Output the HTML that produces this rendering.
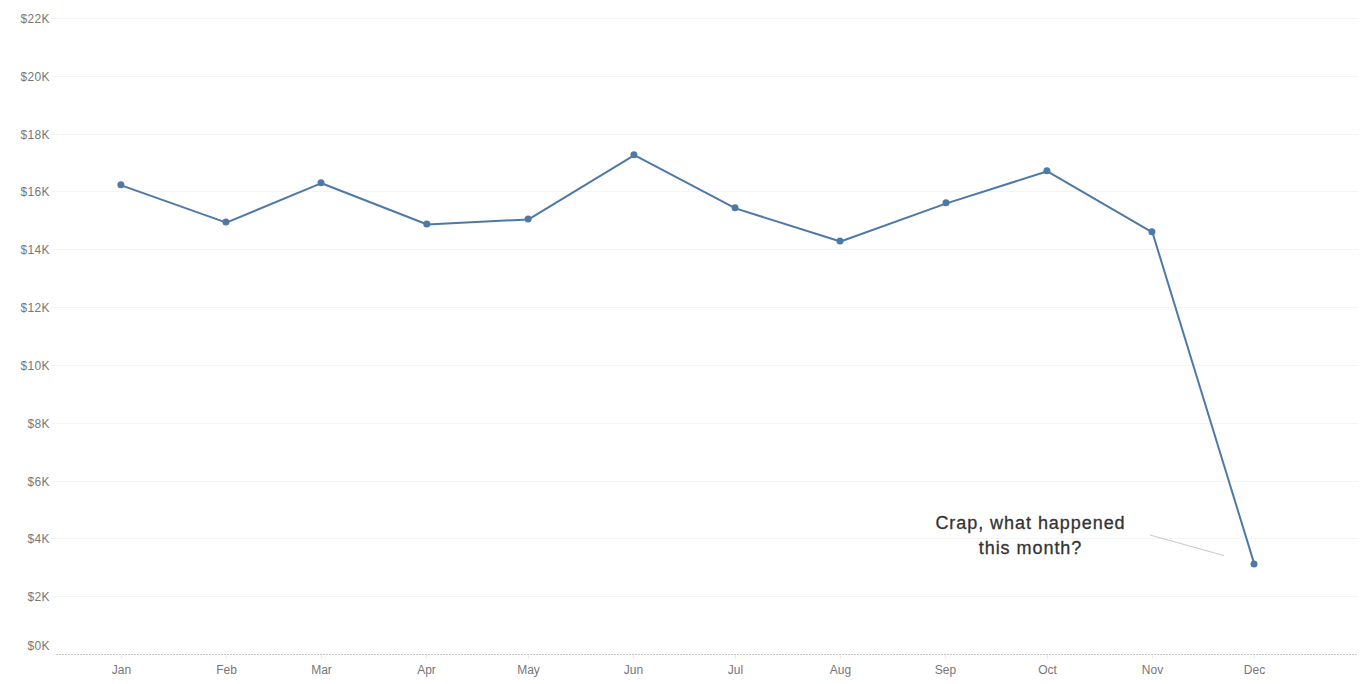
<!DOCTYPE html>
<html><head><meta charset="utf-8"><title>Chart</title>
<style>
html,body{margin:0;padding:0;background:#fff;width:1368px;height:684px;overflow:hidden;font-family:"Liberation Sans",sans-serif;}
</style></head><body>
<svg width="1368" height="684" viewBox="0 0 1368 684" style="position:absolute;left:0;top:0"><rect x="51" y="18" width="1307" height="1" fill="#f4f4f4"/><rect x="51" y="76" width="1307" height="1" fill="#f4f4f4"/><rect x="51" y="134" width="1307" height="1" fill="#f4f4f4"/><rect x="51" y="191" width="1307" height="1" fill="#f4f4f4"/><rect x="51" y="249" width="1307" height="1" fill="#f4f4f4"/><rect x="51" y="307" width="1307" height="1" fill="#f4f4f4"/><rect x="51" y="365" width="1307" height="1" fill="#f4f4f4"/><rect x="51" y="423" width="1307" height="1" fill="#f4f4f4"/><rect x="51" y="481" width="1307" height="1" fill="#f4f4f4"/><rect x="51" y="538" width="1307" height="1" fill="#f4f4f4"/><rect x="51" y="596" width="1307" height="1" fill="#f4f4f4"/><rect x="51" y="654" width="5" height="1" fill="#f4f4f4"/><line x1="56" y1="654.5" x2="1358" y2="654.5" stroke="#c8c8c8" stroke-width="1" stroke-dasharray="2 1"/><rect x="121" y="655" width="1" height="4" fill="#ececec"/><rect x="226" y="655" width="1" height="4" fill="#ececec"/><rect x="321" y="655" width="1" height="4" fill="#ececec"/><rect x="426" y="655" width="1" height="4" fill="#ececec"/><rect x="528" y="655" width="1" height="4" fill="#ececec"/><rect x="633" y="655" width="1" height="4" fill="#ececec"/><rect x="735" y="655" width="1" height="4" fill="#ececec"/><rect x="840" y="655" width="1" height="4" fill="#ececec"/><rect x="945" y="655" width="1" height="4" fill="#ececec"/><rect x="1047" y="655" width="1" height="4" fill="#ececec"/><rect x="1152" y="655" width="1" height="4" fill="#ececec"/><rect x="1254" y="655" width="1" height="4" fill="#ececec"/><text x="49.8" y="18.5" dy="0.36em" text-anchor="end" letter-spacing="0.3" font-family="Liberation Sans, sans-serif" font-size="12" fill="#777">&#36;22K</text><text x="49.8" y="76.5" dy="0.36em" text-anchor="end" letter-spacing="0.3" font-family="Liberation Sans, sans-serif" font-size="12" fill="#777">&#36;20K</text><text x="49.8" y="134.5" dy="0.36em" text-anchor="end" letter-spacing="0.3" font-family="Liberation Sans, sans-serif" font-size="12" fill="#777">&#36;18K</text><text x="49.8" y="191.5" dy="0.36em" text-anchor="end" letter-spacing="0.3" font-family="Liberation Sans, sans-serif" font-size="12" fill="#777">&#36;16K</text><text x="49.8" y="249.5" dy="0.36em" text-anchor="end" letter-spacing="0.3" font-family="Liberation Sans, sans-serif" font-size="12" fill="#777">&#36;14K</text><text x="49.8" y="307.5" dy="0.36em" text-anchor="end" letter-spacing="0.3" font-family="Liberation Sans, sans-serif" font-size="12" fill="#777">&#36;12K</text><text x="49.8" y="365.5" dy="0.36em" text-anchor="end" letter-spacing="0.3" font-family="Liberation Sans, sans-serif" font-size="12" fill="#777">&#36;10K</text><text x="49.8" y="423.5" dy="0.36em" text-anchor="end" letter-spacing="0.3" font-family="Liberation Sans, sans-serif" font-size="12" fill="#777">&#36;8K</text><text x="49.8" y="481.5" dy="0.36em" text-anchor="end" letter-spacing="0.3" font-family="Liberation Sans, sans-serif" font-size="12" fill="#777">&#36;6K</text><text x="49.8" y="538.5" dy="0.36em" text-anchor="end" letter-spacing="0.3" font-family="Liberation Sans, sans-serif" font-size="12" fill="#777">&#36;4K</text><text x="49.8" y="596.5" dy="0.36em" text-anchor="end" letter-spacing="0.3" font-family="Liberation Sans, sans-serif" font-size="12" fill="#777">&#36;2K</text><text x="49.8" y="645.5" dy="0.36em" text-anchor="end" letter-spacing="0.3" font-family="Liberation Sans, sans-serif" font-size="12" fill="#777">&#36;0K</text><text x="121.50" y="674" text-anchor="middle" font-family="Liberation Sans, sans-serif" font-size="12" fill="#777">Jan</text><text x="226.50" y="674" text-anchor="middle" font-family="Liberation Sans, sans-serif" font-size="12" fill="#777">Feb</text><text x="321.50" y="674" text-anchor="middle" font-family="Liberation Sans, sans-serif" font-size="12" fill="#777">Mar</text><text x="426.50" y="674" text-anchor="middle" font-family="Liberation Sans, sans-serif" font-size="12" fill="#777">Apr</text><text x="528.50" y="674" text-anchor="middle" font-family="Liberation Sans, sans-serif" font-size="12" fill="#777">May</text><text x="633.50" y="674" text-anchor="middle" font-family="Liberation Sans, sans-serif" font-size="12" fill="#777">Jun</text><text x="735.50" y="674" text-anchor="middle" font-family="Liberation Sans, sans-serif" font-size="12" fill="#777">Jul</text><text x="840.50" y="674" text-anchor="middle" font-family="Liberation Sans, sans-serif" font-size="12" fill="#777">Aug</text><text x="945.50" y="674" text-anchor="middle" font-family="Liberation Sans, sans-serif" font-size="12" fill="#777">Sep</text><text x="1047.50" y="674" text-anchor="middle" font-family="Liberation Sans, sans-serif" font-size="12" fill="#777">Oct</text><text x="1152.50" y="674" text-anchor="middle" font-family="Liberation Sans, sans-serif" font-size="12" fill="#777">Nov</text><text x="1254.50" y="674" text-anchor="middle" font-family="Liberation Sans, sans-serif" font-size="12" fill="#777">Dec</text><line x1="1150" y1="535" x2="1224" y2="555.6" stroke="#c8c8c8" stroke-width="1"/><polyline points="121.40,185.37 226.40,222.60 321.50,183.20 427.30,224.50 528.60,219.40 634.40,155.15 735.56,208.37 840.50,241.50 946.50,203.37 1047.40,171.30 1152.40,232.30 1254.50,564.60" fill="none" stroke="#4e79a7" stroke-width="2" stroke-linejoin="round"/><circle cx="120.90" cy="184.87" r="3.5" fill="#4e79a7"/><circle cx="225.90" cy="222.10" r="3.5" fill="#4e79a7"/><circle cx="321.00" cy="182.70" r="3.5" fill="#4e79a7"/><circle cx="426.80" cy="224.00" r="3.5" fill="#4e79a7"/><circle cx="528.10" cy="218.90" r="3.5" fill="#4e79a7"/><circle cx="633.90" cy="154.65" r="3.5" fill="#4e79a7"/><circle cx="735.06" cy="207.87" r="3.5" fill="#4e79a7"/><circle cx="840.00" cy="241.00" r="3.5" fill="#4e79a7"/><circle cx="946.00" cy="202.87" r="3.5" fill="#4e79a7"/><circle cx="1046.90" cy="170.80" r="3.5" fill="#4e79a7"/><circle cx="1151.90" cy="231.80" r="3.5" fill="#4e79a7"/><circle cx="1254.00" cy="564.10" r="3.5" fill="#4e79a7"/><text x="1030.5" y="528.7" text-anchor="middle" font-family="Liberation Sans, sans-serif" font-size="18" font-weight="normal" letter-spacing="0.95" fill="#333" stroke="#333" stroke-width="0.3">Crap, what happened</text><text x="1030.5" y="554" text-anchor="middle" font-family="Liberation Sans, sans-serif" font-size="18" font-weight="normal" letter-spacing="0.95" fill="#333" stroke="#333" stroke-width="0.3">this month?</text></svg>
</body></html>
